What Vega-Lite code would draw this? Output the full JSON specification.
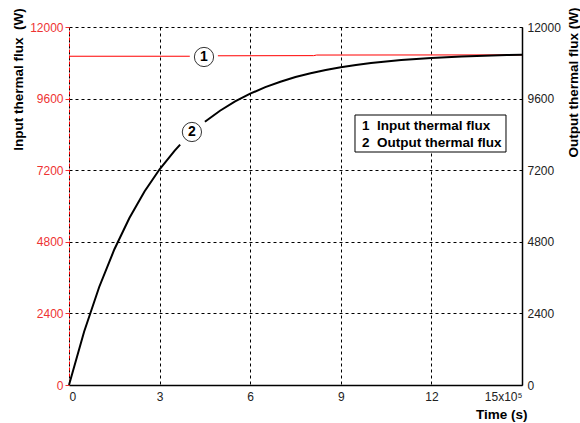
{
  "$schema": "https://vega.github.io/schema/vega-lite/v6.json",
  "width": 453,
  "height": 358,
  "autosize": {"type": "none"},
  "padding": {"left": 69, "top": 27, "right": 58, "bottom": 38},
  "background": "white",
  "config": {
    "view": {"stroke": null},
    "font": "Liberation Sans",
    "axis": {
      "labelFont": "Liberation Sans",
      "labelFontSize": 12,
      "titleFont": "Liberation Sans",
      "titleFontSize": 13.5,
      "titleFontWeight": "bold",
      "titleColor": "black",
      "grid": false
    }
  },
  "datasets": {
    "curves": [
      {"t": 0, "flux": 11020, "series": "input", "seg": "r1"},
      {"t": 4.0, "flux": 11020, "series": "input", "seg": "r1"},
      {"t": 4.93, "flux": 11035, "series": "input", "seg": "r2"},
      {"t": 8.1, "flux": 11040, "series": "input", "seg": "r2"},
      {"t": 8.2, "flux": 11060, "series": "input", "seg": "r2"},
      {"t": 15, "flux": 11065, "series": "input", "seg": "r2"},
      {"t": 0, "flux": 0, "series": "output", "seg": "b1"},
      {"t": 0.5, "flux": 1785, "series": "output", "seg": "b1"},
      {"t": 1.0, "flux": 3285, "series": "output", "seg": "b1"},
      {"t": 1.5, "flux": 4542, "series": "output", "seg": "b1"},
      {"t": 2.0, "flux": 5599, "series": "output", "seg": "b1"},
      {"t": 2.5, "flux": 6487, "series": "output", "seg": "b1"},
      {"t": 3.0, "flux": 7231, "series": "output", "seg": "b1"},
      {"t": 3.5, "flux": 7857, "series": "output", "seg": "b1"},
      {"t": 3.68, "flux": 8060, "series": "output", "seg": "b1"},
      {"t": 4.5, "flux": 8823, "series": "output", "seg": "b2"},
      {"t": 5.0, "flux": 9193, "series": "output", "seg": "b2"},
      {"t": 5.5, "flux": 9504, "series": "output", "seg": "b2"},
      {"t": 6.0, "flux": 9764, "series": "output", "seg": "b2"},
      {"t": 6.5, "flux": 9984, "series": "output", "seg": "b2"},
      {"t": 7.0, "flux": 10167, "series": "output", "seg": "b2"},
      {"t": 7.5, "flux": 10322, "series": "output", "seg": "b2"},
      {"t": 8.0, "flux": 10451, "series": "output", "seg": "b2"},
      {"t": 8.5, "flux": 10560, "series": "output", "seg": "b2"},
      {"t": 9.0, "flux": 10652, "series": "output", "seg": "b2"},
      {"t": 9.5, "flux": 10728, "series": "output", "seg": "b2"},
      {"t": 10.0, "flux": 10793, "series": "output", "seg": "b2"},
      {"t": 10.5, "flux": 10847, "series": "output", "seg": "b2"},
      {"t": 11.0, "flux": 10892, "series": "output", "seg": "b2"},
      {"t": 11.5, "flux": 10931, "series": "output", "seg": "b2"},
      {"t": 12.0, "flux": 10962, "series": "output", "seg": "b2"},
      {"t": 12.5, "flux": 10990, "series": "output", "seg": "b2"},
      {"t": 13.0, "flux": 11012, "series": "output", "seg": "b2"},
      {"t": 13.5, "flux": 11031, "series": "output", "seg": "b2"},
      {"t": 14.0, "flux": 11047, "series": "output", "seg": "b2"},
      {"t": 14.5, "flux": 11060, "series": "output", "seg": "b2"},
      {"t": 15.0, "flux": 11071, "series": "output", "seg": "b2"}
    ],
    "markers": [
      {"t": 4.47, "flux": 10995, "label": "1"},
      {"t": 4.07, "flux": 8481, "label": "2"}
    ],
    "legendbox": [
      {"t1": 9.47, "t2": 14.47, "f1": 9050, "f2": 7810}
    ],
    "legendtext": [
      {"t": 9.7, "flux": 8682, "label": "1\u00a0\u00a0Input thermal flux"},
      {"t": 9.7, "flux": 8112, "label": "2\u00a0\u00a0Output thermal flux"}
    ]
  },
  "layer": [
    {
      "data": {"name": "curves"},
      "transform": [{"filter": "datum.series == 'input'"}],
      "mark": {"type": "line", "color": "#ff0000", "strokeWidth": 1},
      "encoding": {
        "x": {
          "field": "t", "type": "quantitative",
          "scale": {"domain": [0, 15], "nice": false, "zero": false},
          "axis": {
            "values": [0, 3, 6, 9, 12, 15],
            "labelExpr": "datum.value == 15 ? '15x10⁵' : datum.label",
            "grid": true, "gridColor": "black", "gridDash": [3, 3], "gridOpacity": 1, "gridWidth": 1,
            "domainColor": "black", "domainWidth": 1.5,
            "ticks": false, "labelPadding": 6, "labelColor": "#222222",
            "title": "Time (s)", "titleAlign": "right", "titleAnchor": null,
            "titleX": 458, "titleY": 33, "titleBaseline": "alphabetic"
          }
        },
        "y": {
          "field": "flux", "type": "quantitative",
          "scale": {"domain": [0, 12000], "nice": false},
          "axis": {
            "orient": "left",
            "values": [0, 2400, 4800, 7200, 9600, 12000],
            "format": "d",
            "grid": true, "gridColor": "black", "gridDash": [3, 3], "gridOpacity": 1, "gridWidth": 1,
            "domainColor": "#ff0000", "domainDash": [3, 3], "domainDashOffset": 3,
            "tickColor": "#ee3333", "tickSize": 4, "labelPadding": 2,
            "labelColor": "#ee3333",
            "title": "Input thermal flux\u00a0\u00a0(W)", "titleAngle": -90,
            "titleAlign": "center", "titleBaseline": "middle",
            "titleX": -51, "titleY": 52, "titleAnchor": null
          }
        },
        "detail": {"field": "seg"}
      }
    },
    {
      "data": {"name": "curves"},
      "transform": [{"filter": "datum.series == 'output'"}],
      "mark": {"type": "line", "color": "black", "strokeWidth": 2},
      "encoding": {
        "x": {"field": "t", "type": "quantitative"},
        "y": {
          "field": "flux", "type": "quantitative",
          "axis": {
            "orient": "right",
            "values": [0, 2400, 4800, 7200, 9600, 12000],
            "format": "d",
            "grid": false,
            "domainColor": "black", "domainWidth": 1.5,
            "ticks": false, "labelPadding": 5,
            "labelColor": "#222222",
            "title": "Output thermal flux (W)", "titleAngle": -90,
            "titleAlign": "center", "titleBaseline": "middle",
            "titleX": 51, "titleY": 55, "titleAnchor": null
          }
        },
        "detail": {"field": "seg"}
      }
    },
    {
      "data": {"name": "legendbox"},
      "mark": {"type": "rect", "fill": "white", "stroke": "black", "strokeWidth": 1},
      "encoding": {
        "x": {"field": "t1", "type": "quantitative"},
        "x2": {"field": "t2"},
        "y": {"field": "f1", "type": "quantitative", "axis": null},
        "y2": {"field": "f2"}
      }
    },
    {
      "data": {"name": "legendtext"},
      "mark": {"type": "text", "align": "left", "baseline": "middle", "font": "Liberation Sans", "fontSize": 13.5, "fontWeight": "bold", "color": "black"},
      "encoding": {
        "x": {"field": "t", "type": "quantitative"},
        "y": {"field": "flux", "type": "quantitative", "axis": null},
        "text": {"field": "label"}
      }
    },
    {
      "data": {"name": "markers"},
      "mark": {"type": "point", "shape": "circle", "filled": false, "fill": "white", "fillOpacity": 1, "stroke": "#333333", "strokeWidth": 1, "size": 370, "opacity": 1},
      "encoding": {
        "x": {"field": "t", "type": "quantitative"},
        "y": {"field": "flux", "type": "quantitative", "axis": null}
      }
    },
    {
      "data": {"name": "markers"},
      "mark": {"type": "text", "align": "center", "baseline": "middle", "font": "Liberation Sans", "fontSize": 14, "fontWeight": "bold", "color": "black"},
      "encoding": {
        "x": {"field": "t", "type": "quantitative"},
        "y": {"field": "flux", "type": "quantitative", "axis": null},
        "text": {"field": "label"}
      }
    }
  ],
  "resolve": {"axis": {"y": "independent"}}
}
